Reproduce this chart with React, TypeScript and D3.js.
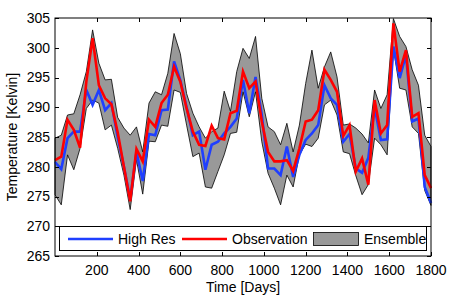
import React, { useEffect, useRef } from 'react';
import * as d3 from 'd3';

// sample every 30 days, 0..1800
const days: number[] = d3.range(0, 1801, 30);

const highRes: number[] = [
  280.8, 279.6, 284.8, 285.9, 285.9, 292.9, 290.4, 292.9, 289.5, 290.7,
  285.0, 280.0, 274.5, 282.5, 277.6, 285.5, 285.3, 289.5, 289.6, 297.7,
  294.5, 290.0, 285.3, 285.9, 279.5, 283.7, 284.2, 285.6, 286.7, 288.1,
  294.6, 289.0, 295.1, 288.7, 279.7, 279.7, 278.6, 283.4, 278.3, 282.0,
  284.5, 285.6, 287.0, 293.7, 291.5, 290.4, 284.2, 285.5, 279.7, 279.0,
  281.5, 290.0, 284.5, 284.6, 300.2, 294.9, 298.8, 287.6, 288.1, 276.6,
  273.9,
];

const observation: number[] = [
  281.1, 281.7, 287.9, 286.2, 283.2, 294.3, 301.6, 293.7, 291.5, 290.5,
  285.8, 280.0, 274.2, 283.0, 280.9, 287.9, 286.7, 290.7, 292.1, 296.8,
  294.3, 289.8, 285.9, 283.7, 283.5, 286.9, 284.8, 284.6, 289.0, 289.4,
  296.0, 293.2, 294.3, 287.6, 282.5, 280.9, 280.9, 281.1, 279.3, 283.1,
  287.6, 287.9, 289.5, 296.3, 294.6, 292.6, 285.2, 287.0, 279.2, 281.4,
  277.0, 291.2, 285.6, 287.0, 304.1, 296.0, 299.6, 288.4, 289.0, 278.6,
  276.4,
];

const ensembleHigh: number[] = [
  284.8, 285.3, 288.7, 288.9, 292.1, 296.0, 303.0, 297.4, 294.6, 294.7,
  288.3, 286.5, 285.3, 286.7, 282.5, 290.7, 292.6, 292.1, 295.7, 302.4,
  299.0, 292.3, 289.0, 286.7, 284.8, 285.9, 286.5, 292.7, 289.3, 296.0,
  299.9, 298.2, 301.9, 291.5, 286.7, 285.9, 283.7, 287.3, 282.5, 287.0,
  294.0, 299.6, 293.2, 296.8, 299.3, 295.1, 287.0, 287.2, 286.5, 285.5,
  284.0, 292.9, 289.8, 292.1, 304.9, 301.9, 300.2, 296.3, 293.7, 285.3,
  283.4,
];

const ensembleLow: number[] = [
  275.3, 273.6, 282.0, 279.5, 283.1, 289.8, 291.2, 290.7, 286.2, 287.0,
  283.1, 278.6, 272.8, 281.2, 275.4, 284.3, 284.2, 287.0, 286.8, 292.9,
  292.5, 287.0, 281.7, 282.3, 276.6, 276.4, 279.2, 282.0, 285.6, 285.8,
  292.6, 288.4, 292.6, 284.2, 278.9, 276.4, 273.6, 278.6, 276.6, 282.0,
  283.8, 283.4, 284.8, 290.4, 291.2, 288.7, 282.5, 282.2, 278.5, 275.3,
  277.0, 284.8, 283.7, 282.0, 299.9, 293.2, 292.9, 286.7, 285.6, 276.0,
  273.5,
];

const xTicks: number[] = [200, 400, 600, 800, 1000, 1200, 1400, 1600, 1800];
const yTicks: number[] = [265, 270, 275, 280, 285, 290, 295, 300, 305];

const FONT = "'Liberation Sans', Arial, Helvetica, sans-serif";
const FS = "14px";

const App: React.FC = () => {
  const svgRef = useRef<SVGSVGElement>(null);

  useEffect(() => {
    if (!svgRef.current) return;
    const svg = d3.select(svgRef.current);
    svg.selectAll("*").remove();

    const W = 452;
    const H = 296;
    const left = 55, right = 431, top = 18, bottom = 256;

    svg.attr("width", W).attr("height", H);
    svg.append("rect").attr("width", W).attr("height", H).attr("fill", "#fff");

    const x = d3.scaleLinear().domain([0, 1800]).range([left, right]);
    const y = d3.scaleLinear().domain([265, 305]).range([bottom, top]);

    const g = svg.append("g");

    // Ensemble band
    const area = d3
      .area<number>()
      .x((_, i) => x(days[i]))
      .y0((_, i) => y(ensembleLow[i]))
      .y1((_, i) => y(ensembleHigh[i]));

    g.append("path")
      .datum(days)
      .attr("d", area)
      .attr("fill", "#999999")
      .attr("stroke", "#000")
      .attr("stroke-width", 0.8)
      .attr("stroke-linejoin", "miter");

    const line = (vals: number[]) =>
      d3
        .line<number>()
        .x((_, i) => x(days[i]))
        .y(d => y(d))(vals);

    g.append("path")
      .attr("d", line(highRes))
      .attr("fill", "none")
      .attr("stroke", "#1f3fff")
      .attr("stroke-width", 2.6)
      .attr("stroke-linejoin", "miter");

    g.append("path")
      .attr("d", line(observation))
      .attr("fill", "none")
      .attr("stroke", "#ff0000")
      .attr("stroke-width", 2.6)
      .attr("stroke-linejoin", "miter");

    // Frame
    g.append("rect")
      .attr("x", left)
      .attr("y", top)
      .attr("width", right - left)
      .attr("height", bottom - top)
      .attr("fill", "none")
      .attr("stroke", "#000")
      .attr("stroke-width", 1);

    const tl = 4;
    // X ticks (inside, bottom and top)
    xTicks.forEach(t => {
      const px = Math.round(x(t)) + 0.5;
      g.append("line").attr("x1", px).attr("x2", px).attr("y1", bottom).attr("y2", bottom - tl).attr("stroke", "#000");
      g.append("line").attr("x1", px).attr("x2", px).attr("y1", top).attr("y2", top + tl).attr("stroke", "#000");
      g.append("text")
        .attr("x", x(t))
        .attr("y", bottom + 19)
        .attr("text-anchor", "middle")
        .style("font-family", FONT)
        .style("font-size", FS)
        .text(t);
    });

    // Y ticks (inside, left and right)
    yTicks.forEach(t => {
      const py = Math.round(y(t)) + 0.5;
      g.append("line").attr("x1", left).attr("x2", left + tl).attr("y1", py).attr("y2", py).attr("stroke", "#000");
      g.append("line").attr("x1", right).attr("x2", right - tl).attr("y1", py).attr("y2", py).attr("stroke", "#000");
      g.append("text")
        .attr("x", left - 5)
        .attr("y", y(t))
        .attr("dy", "0.35em")
        .attr("text-anchor", "end")
        .style("font-family", FONT)
        .style("font-size", FS)
        .text(t);
    });

    // Axis labels
    g.append("text")
      .attr("x", (left + right) / 2)
      .attr("y", 292)
      .attr("text-anchor", "middle")
      .style("font-family", FONT)
      .style("font-size", FS)
      .text("Time [Days]");

    g.append("text")
      .attr("transform", `translate(17, ${(top + bottom) / 2}) rotate(-90)`)
      .attr("text-anchor", "middle")
      .style("font-family", FONT)
      .style("font-size", FS)
      .text("Temperature [Kelvin]");

    // Legend
    const legend = g.append("g");
    legend.append("rect")
      .attr("x", 59.5)
      .attr("y", 226.5)
      .attr("width", 367)
      .attr("height", 24)
      .attr("fill", "#fff")
      .attr("stroke", "#000")
      .attr("stroke-width", 1);

    const ly = 239;
    const items = [
      { label: "High Res", color: "#1f3fff", x0: 68 },
      { label: "Observation", color: "#ff0000", x0: 182 },
    ];
    items.forEach(it => {
      legend.append("line")
        .attr("x1", it.x0).attr("x2", it.x0 + 45)
        .attr("y1", ly).attr("y2", ly)
        .attr("stroke", it.color).attr("stroke-width", 2.6);
      legend.append("text")
        .attr("x", it.x0 + 50)
        .attr("y", ly)
        .attr("dy", "0.35em")
        .style("font-family", FONT)
        .style("font-size", FS)
        .text(it.label);
    });
    legend.append("rect")
      .attr("x", 313.5)
      .attr("y", 232.5)
      .attr("width", 45)
      .attr("height", 13)
      .attr("fill", "#999999")
      .attr("stroke", "#000")
      .attr("stroke-width", 0.8);
    legend.append("text")
      .attr("x", 364)
      .attr("y", ly)
      .attr("dy", "0.35em")
      .style("font-family", FONT)
      .style("font-size", FS)
      .text("Ensemble");
  }, []);

  return (
    <svg ref={svgRef} style={{ position: "absolute", left: 0, top: 0, display: "block" }}></svg>
  );
};

export default App;
